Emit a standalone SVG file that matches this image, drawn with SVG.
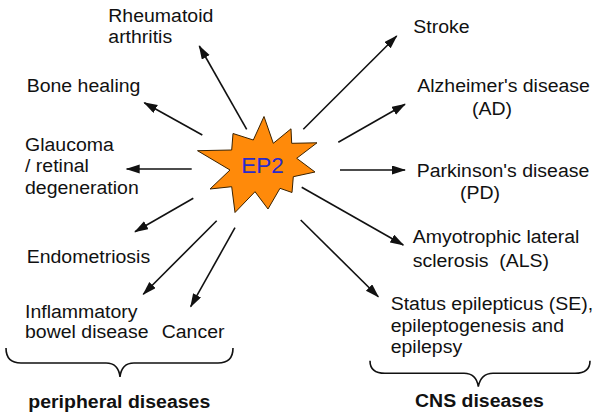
<svg xmlns="http://www.w3.org/2000/svg" width="600" height="417" viewBox="0 0 600 417">
<style>
.t{font-family:"Liberation Sans",Arial,sans-serif;font-size:17.8px;fill:#111}
.b{font-weight:bold}
.c line{stroke:#111;stroke-width:1.6;fill:none}
.br{stroke:#111;stroke-width:1.6;fill:none}
</style>
<defs>
<marker id="ah" markerUnits="userSpaceOnUse" markerWidth="15" markerHeight="10" refX="13" refY="4.5" orient="auto">
<path d="M0,0 L14,4.5 L0,9 z" fill="#111"/>
</marker>
</defs>
<rect width="600" height="417" fill="#fff"/>
<g id="connectors" class="c">
<line x1="246.7" y1="129.3" x2="199.3" y2="46" marker-end="url(#ah)"/>
<line x1="202.3" y1="135" x2="144.3" y2="102.7" marker-end="url(#ah)"/>
<line x1="191.7" y1="169" x2="126.7" y2="169" marker-end="url(#ah)"/>
<line x1="193.3" y1="198.3" x2="135" y2="231.7" marker-end="url(#ah)"/>
<line x1="216.7" y1="220.7" x2="143.3" y2="294.3" marker-end="url(#ah)"/>
<line x1="235" y1="227.7" x2="190.7" y2="306.7" marker-end="url(#ah)"/>
<line x1="303.3" y1="129.3" x2="396.7" y2="36" marker-end="url(#ah)"/>
<line x1="338.3" y1="142.3" x2="405" y2="104.3" marker-end="url(#ah)"/>
<line x1="340" y1="170" x2="405" y2="170" marker-end="url(#ah)"/>
<line x1="301.7" y1="187.3" x2="403.3" y2="245" marker-end="url(#ah)"/>
<line x1="300.7" y1="220" x2="378.3" y2="296.7" marker-end="url(#ah)"/>
</g>
<g id="ep2">
<polygon points="264,116.5 273.3,143.3 291,128.8 291.7,143.3 317,142.8 296.7,158.3 315,172 293.3,176.7 292,192.5 280,188.3 268,209 255,191.7 235,212.5 231.7,186.7 210,189 230,170 197.5,150.7 231.7,150 233,133.5 253.3,140" fill="#ff8a0a" stroke="#3a2200" stroke-width="1" stroke-linejoin="miter"/>
<text x="262.5" y="173" text-anchor="middle" font-family="Liberation Sans,Arial,sans-serif" font-size="22.5" fill="#2a2acc">EP2</text>
</g>
<g id="rheumatoid"><text class="t" transform="matrix(1.095 0 0 1 108.3 22)"><tspan x="0" y="0">Rheumatoid</tspan><tspan x="0" y="21.3">arthritis</tspan></text></g>
<g id="bone"><text class="t" transform="matrix(1.095 0 0 1 26.7 92)">Bone healing</text></g>
<g id="glaucoma"><text class="t" transform="matrix(1.095 0 0 1 25 150.7)"><tspan x="0" y="0">Glaucoma</tspan><tspan x="0" y="21.6">/ retinal</tspan><tspan x="0" y="43.3">degeneration</tspan></text></g>
<g id="endometriosis"><text class="t" transform="matrix(1.095 0 0 1 26.7 262.7)">Endometriosis</text></g>
<g id="ibd"><text class="t" transform="matrix(1.095 0 0 1 25 318.3)"><tspan x="0" y="0">Inflammatory</tspan><tspan x="0" y="20.2">bowel disease</tspan></text></g>
<g id="cancer"><text class="t" transform="matrix(1.095 0 0 1 161.7 337.5)">Cancer</text></g>
<g id="stroke"><text class="t" transform="matrix(1.095 0 0 1 413.3 33.3)">Stroke</text></g>
<g id="ad"><text class="t" transform="matrix(1.095 0 0 1 417.3 92)"><tspan x="0" y="0">Alzheimer's disease</tspan><tspan x="50" y="23">(AD)</tspan></text></g>
<g id="pd"><text class="t" transform="matrix(1.095 0 0 1 416.7 176.7)"><tspan x="0" y="0">Parkinson's disease</tspan><tspan x="39.5" y="22.3">(PD)</tspan></text></g>
<g id="als"><text class="t" transform="matrix(1.095 0 0 1 412.7 243.3)" style="white-space:pre"><tspan x="0" y="0">Amyotrophic lateral</tspan><tspan x="0" y="23.4">sclerosis  (ALS)</tspan></text></g>
<g id="se"><text class="t" transform="matrix(1.095 0 0 1 390.7 310)"><tspan x="0" y="0">Status epilepticus (SE),</tspan><tspan x="0" y="21.7">epileptogenesis and</tspan><tspan x="0" y="43.3">epilepsy</tspan></text></g>
<g id="peripheral">
<path class="br" d="M6,348 C6,358 11,363 21,363 L106,363 C114,363 119,368 120,377 C121,368 126,363 134,363 L218,363 C228,363 233,358 233,348"/>
<text class="t b" transform="matrix(1.095 0 0 1 28.3 408)">peripheral diseases</text>
</g>
<g id="cns">
<path class="br" d="M370,360.7 C370,369 375,373.3 385,373.3 L464,373.3 C472,373.3 477,378 478.3,386.7 C480,378 485,373.3 493,373.3 L575,373.3 C585,373.3 590,369 590,360.7"/>
<text class="t b" transform="matrix(1.095 0 0 1 415 406.7)">CNS diseases</text>
</g>
</svg>
